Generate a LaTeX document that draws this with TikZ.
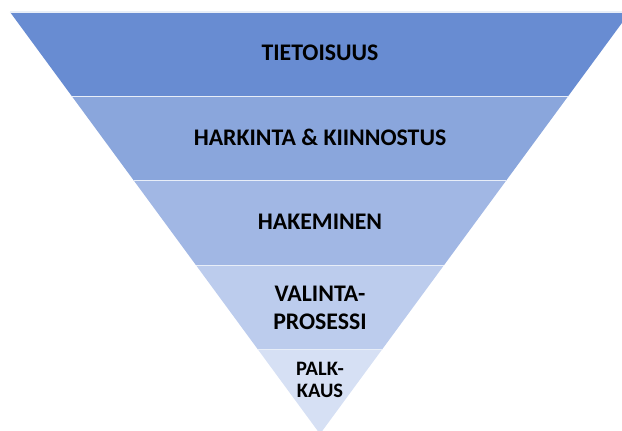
\documentclass[tikz,border=0pt]{standalone}
\usepackage{fontspec}
\setmainfont{Carlito}
\definecolor{bandA}{RGB}{104,140,210}
\definecolor{bandB}{RGB}{138,166,220}
\definecolor{bandC}{RGB}{161,183,228}
\definecolor{bandD}{RGB}{188,204,237}
\definecolor{bandE}{RGB}{214,224,244}
\begin{document}
\begin{tikzpicture}[x=1pt,y=-1pt,
  label/.style={font=\bfseries\fontsize{23.8}{28}\selectfont,text=black,align=center,inner sep=0pt},
  smalllabel/.style={font=\bfseries\fontsize{20.5}{22}\selectfont,text=black,align=center,inner sep=0pt},
  sep/.style={draw=white!85!bandA,line width=1.3pt}]
\useasboundingbox (0,0) rectangle (622,431);
% funnel geometry: top edge y=12, half-width 310, apex (320,434)
\def\cx{320}
\def\hw#1{(0.734597*(434-#1))}
\foreach \ya/\yb/\col in {12/96.4/bandA,96.4/180.8/bandB,180.8/265.2/bandC,265.2/349.6/bandD,349.6/434/bandE}{
  \fill[\col] ({\cx-\hw{\ya}},\ya) -- ({\cx+\hw{\ya}},\ya) -- ({\cx+\hw{\yb}},\yb) -- ({\cx-\hw{\yb}},\yb) -- cycle;
}
\foreach \y in {12,96.4,180.8,265.2,349.6}{
  \draw[sep] ({\cx-\hw{\y}},\y) -- ({\cx+\hw{\y}},\y);
}
\node[label] (l1) at (\cx,53) {TIETOISUUS};
\node[label] (l2) at (\cx,137.5) {HARKINTA \& KIINNOSTUS};
\node[label] (l3) at (\cx,222) {HAKEMINEN};
\node[label] (l4) at (\cx,308) {VALINTA-\\PROSESSI};
\node[smalllabel] (l5) at (\cx,380) {PALK-\\KAUS};
\end{tikzpicture}
\end{document}
